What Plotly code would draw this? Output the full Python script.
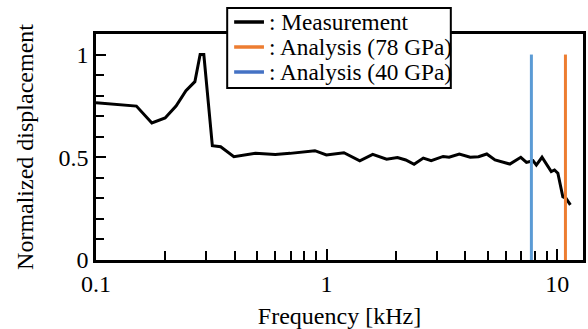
import plotly.graph_objects as go

freq_khz = [0.100, 0.1497, 0.1747, 0.1994, 0.2224, 0.2455, 0.2684, 0.2829, 0.2935,
            0.3196, 0.3472, 0.3962, 0.4912, 0.5988, 0.6946, 0.8898, 0.998, 1.189,
            1.393, 1.585, 1.821, 2.03, 2.204, 2.396, 2.627, 2.843, 3.202, 3.398,
            3.763, 4.196, 4.559, 4.95, 5.375, 5.742, 6.234, 6.953, 7.357, 7.862,
            8.123, 8.594, 9.424, 9.736, 10.07, 10.58, 10.93, 11.41]
measured = [0.765, 0.749, 0.667, 0.691, 0.749, 0.824, 0.868, 1.0, 1.0,
            0.556, 0.551, 0.503, 0.519, 0.514, 0.519, 0.532, 0.511, 0.522,
            0.483, 0.514, 0.491, 0.499, 0.487, 0.466, 0.496, 0.484, 0.504, 0.50,
            0.516, 0.50, 0.503, 0.516, 0.487, 0.478, 0.467, 0.50, 0.475, 0.483,
            0.462, 0.50, 0.43, 0.438, 0.422, 0.308, 0.30, 0.268]

analysis_78_khz = 10.86
analysis_40_khz = 7.73
analysis_amp = [0, 1.0]

names = [": Measurement", ": Analysis (78 GPa)", ": Analysis (40 GPa)"]
line_colors = ["black", "#ED7D31", "#5B9BD5"]
legend_colors = ["black", "#ED7D31", "#4472C4"]
FONT = "Times New Roman, Times, serif"
TITLE_SIZE = 24
TICK_SIZE = 24
LEGEND_SIZE = 23.3

W, H = 588, 329
ML, MR, MT, MB = 96, 2, 34, 69
PW, PH = W - ML - MR, H - MT - MB


def px_x(px):
    return (px - ML) / PW


def px_y(py):
    return (H - MB - py) / PH


fig = go.Figure()
fig.add_trace(go.Scatter(x=freq_khz, y=measured, mode="lines",
                         line=dict(color=line_colors[0], width=3), name=names[0]))
fig.add_trace(go.Scatter(x=[analysis_78_khz, analysis_78_khz], y=analysis_amp, mode="lines",
                         line=dict(color=line_colors[1], width=3), name=names[1]))
fig.add_trace(go.Scatter(x=[analysis_40_khz, analysis_40_khz], y=analysis_amp, mode="lines",
                         line=dict(color=line_colors[2], width=3), name=names[2]))

# legend box drawn manually (to match the tight row spacing of the original)
shapes = [dict(type="rect", xref="paper", yref="paper",
               x0=px_x(228), x1=px_x(453), y0=px_y(88), y1=px_y(8),
               line=dict(color="black", width=2), fillcolor="white", layer="above")]
annotations = []
row_y = [22, 47, 72]
for name, col, ry in zip(names, legend_colors, row_y):
    shapes.append(dict(type="line", xref="paper", yref="paper",
                       x0=px_x(235), x1=px_x(265), y0=px_y(ry), y1=px_y(ry),
                       line=dict(color=col, width=3.5), layer="above"))
    annotations.append(dict(xref="paper", yref="paper", x=px_x(268), y=px_y(ry),
                            xanchor="left", yanchor="middle", text=name, showarrow=False,
                            font=dict(family=FONT, size=LEGEND_SIZE, color="black")))

fig.update_layout(
    width=W, height=H,
    margin=dict(l=ML, r=MR, t=MT, b=MB),
    plot_bgcolor="white", paper_bgcolor="white",
    font=dict(family=FONT, size=TICK_SIZE, color="black"),
    showlegend=False,
    shapes=shapes, annotations=annotations,
    xaxis=dict(type="log", range=[-1, 1.112],
               tickvals=[0.1, 1, 10], ticktext=["0.1", "1", "10"],
               tickfont=dict(family=FONT, size=TICK_SIZE, color="black"),
               ticks="inside", ticklen=11, tickwidth=2, tickcolor="black",
               minor=dict(ticks="inside", ticklen=9, tickwidth=2, tickcolor="black",
                          tickvals=[0.2, 0.3, 0.4, 0.5, 0.6, 0.7, 0.8, 0.9,
                                    2, 3, 4, 5, 6, 7, 8, 9], showgrid=False),
               showline=True, linecolor="black", linewidth=2.5, mirror=True,
               showgrid=False, zeroline=False,
               title=dict(text="Frequency [kHz]", standoff=12,
                          font=dict(family=FONT, size=TITLE_SIZE, color="black"))),
    yaxis=dict(range=[0, 1.1], tickvals=[0, 0.5, 1], ticktext=["0", "0.5", "1"],
               tickfont=dict(family=FONT, size=TICK_SIZE, color="black"),
               ticks="inside", ticklen=10, tickwidth=2, tickcolor="black",
               minor=dict(ticks="inside", ticklen=8, tickwidth=2, tickcolor="black",
                          tickvals=[0.1, 0.2, 0.3, 0.4, 0.6, 0.7, 0.8, 0.9], showgrid=False),
               showline=True, linecolor="black", linewidth=2.5, mirror=True,
               showgrid=False, zeroline=False,
               title=dict(text="Normalized displacement", standoff=19,
                          font=dict(family=FONT, size=TITLE_SIZE, color="black"))),
)

fig.write_html("out.html")
